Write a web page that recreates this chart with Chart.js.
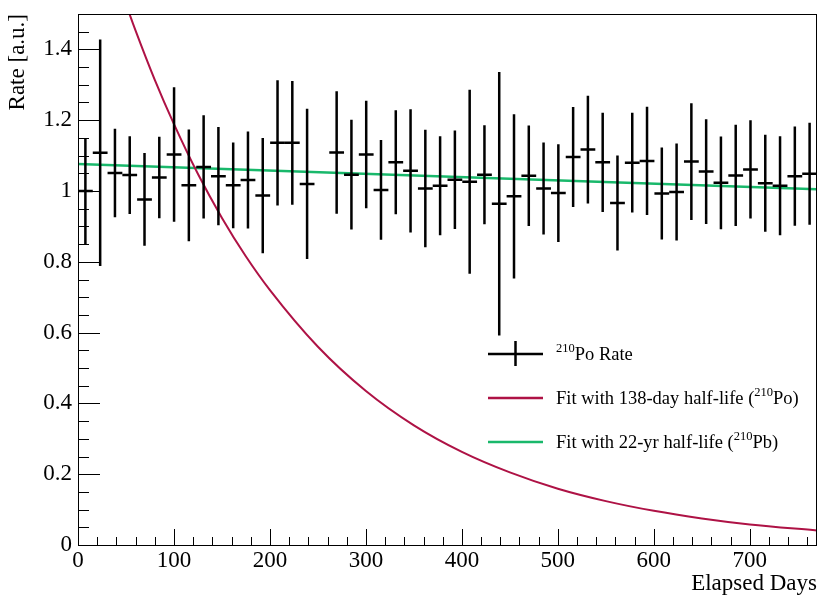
<!DOCTYPE html>
<html>
<head>
<meta charset="utf-8">
<script src="https://cdn.jsdelivr.net/npm/chart.js@4.4.1/dist/chart.umd.min.js"></script>
<style>
  html, body { margin: 0; padding: 0; background: #fff; }
</style>
</head>
<body>
<canvas id="rateChart" width="820" height="596"></canvas>
<script>
// bin centres (days) of the 210Po rate points, one bin near day 254 is empty
const binDays = [7.7, 23.1, 38.5, 53.9, 69.3, 84.7, 100.1, 115.5, 130.9, 146.3, 161.7, 177.1,
  192.5, 207.9, 223.3, 238.7, 269.5, 284.9, 300.3, 315.7, 331.1, 346.5, 361.9, 377.3,
  392.7, 408.1, 423.5, 438.9, 454.3, 469.7, 485.1, 500.5, 515.9, 531.3, 546.7, 562.1,
  577.5, 592.9, 608.3, 623.7, 639.1, 654.5, 669.9, 685.3, 700.7, 716.1, 731.5, 746.9, 762.3];
const binHalfWidth = 7.7;
const rateValues = [1.000, 1.108, 1.051, 1.045, 0.976, 1.038, 1.103, 1.016, 1.068, 1.042, 1.016, 1.031,
  0.987, 1.136, 1.136, 1.020, 1.109, 1.046, 1.103, 1.003, 1.081, 1.057, 1.007, 1.015,
  1.032, 1.026, 1.046, 0.964, 0.985, 1.043, 1.007, 0.994, 1.096, 1.117, 1.081, 0.966,
  1.080, 1.085, 0.993, 0.997, 1.083, 1.055, 1.023, 1.044, 1.061, 1.022, 1.015, 1.042, 1.049];
const rateErrors = [0.150, 0.320, 0.125, 0.110, 0.131, 0.115, 0.190, 0.158, 0.146, 0.139, 0.121, 0.137,
  0.163, 0.177, 0.175, 0.212, 0.173, 0.155, 0.152, 0.141, 0.147, 0.174, 0.166, 0.140,
  0.139, 0.260, 0.140, 0.372, 0.232, 0.142, 0.130, 0.138, 0.141, 0.152, 0.140, 0.134,
  0.141, 0.153, 0.130, 0.137, 0.165, 0.148, 0.131, 0.143, 0.139, 0.137, 0.140, 0.140, 0.144];

// 138-day half-life fit
const poFitDays = [40, 50, 60, 80, 100, 125, 150, 175, 200, 250, 300, 350, 400, 450, 500, 550, 600, 650, 700, 770];
const poFitValues = [1.607, 1.528, 1.453, 1.314, 1.189, 1.048, 0.924, 0.815, 0.720, 0.560, 0.435, 0.338,
  0.263, 0.205, 0.159, 0.124, 0.0965, 0.075, 0.058, 0.041];

// 22-yr half-life fit (almost flat)
const pbFitDays = [0, 770];
const pbFitValues = [1.076, 1.005];

const xTicks = [0, 100, 200, 300, 400, 500, 600, 700];
const yTicks = [0, 0.2, 0.4, 0.6, 0.8, 1, 1.2, 1.4];

const X_MAX = 770, Y_MAX = 1.5;
const FONT = '"Liberation Serif", "Times New Roman", serif';
const RED = '#AE1245';
const GREEN = '#19B86B';

// error bars, ROOT-style inner ticks, frame and legend
const rootStyle = {
  id: 'rootStyle',
  afterDatasetsDraw(chart) {
    const ctx = chart.ctx;
    const xs = chart.scales.x, ys = chart.scales.y;
    const area = chart.chartArea;
    ctx.save();
    ctx.beginPath();
    ctx.rect(area.left, area.top, area.right - area.left, area.bottom - area.top);
    ctx.clip();
    ctx.strokeStyle = '#000';
    ctx.lineWidth = 2.5;
    binDays.forEach((d, i) => {
      const v = rateValues[i], e = rateErrors[i];
      const px = xs.getPixelForValue(d), py = ys.getPixelForValue(v);
      ctx.beginPath();
      ctx.moveTo(xs.getPixelForValue(d - binHalfWidth), py);
      ctx.lineTo(xs.getPixelForValue(d + binHalfWidth), py);
      ctx.moveTo(px, ys.getPixelForValue(v + e));
      ctx.lineTo(px, ys.getPixelForValue(v - e));
      ctx.stroke();
    });
    ctx.restore();
  },
  afterDraw(chart) {
    const ctx = chart.ctx;
    const xs = chart.scales.x, ys = chart.scales.y;
    const a = chart.chartArea;
    ctx.save();
    ctx.strokeStyle = '#000';
    ctx.lineWidth = 1;
    // ticks
    ctx.beginPath();
    for (let d = 0; d <= X_MAX; d += 20) {
      const px = Math.round(xs.getPixelForValue(d)) + 0.5;
      const len = d % 100 === 0 ? 16 : 8;
      ctx.moveTo(px, a.bottom);
      ctx.lineTo(px, a.bottom - len);
    }
    for (let k = 0; k <= 30; k++) {
      const v = k * 0.05;
      const py = Math.round(ys.getPixelForValue(v)) + 0.5;
      const len = k % 4 === 0 ? 22 : 11;
      ctx.moveTo(a.left, py);
      ctx.lineTo(a.left + len, py);
    }
    ctx.stroke();
    // frame
    ctx.strokeRect(Math.round(a.left) + 0.5, Math.round(a.top) + 0.5,
      Math.round(a.right - a.left) - 1, Math.round(a.bottom - a.top));
    ctx.restore();

    // legend
    ctx.save();
    ctx.lineWidth = 2.5;
    ctx.strokeStyle = '#000';
    ctx.beginPath();
    ctx.moveTo(488, 354); ctx.lineTo(543, 354);
    ctx.moveTo(515.5, 341); ctx.lineTo(515.5, 366);
    ctx.stroke();
    ctx.strokeStyle = RED;
    ctx.beginPath(); ctx.moveTo(488, 398); ctx.lineTo(543, 398); ctx.stroke();
    ctx.strokeStyle = GREEN;
    ctx.beginPath(); ctx.moveTo(488, 442); ctx.lineTo(543, 442); ctx.stroke();

    ctx.fillStyle = '#000';
    ctx.textBaseline = 'alphabetic';
    const big = '18.5px ' + FONT, small = '12.5px ' + FONT;
    function richText(parts, x, y) {
      parts.forEach(p => {
        ctx.font = p.sup ? small : big;
        ctx.fillText(p.t, x, p.sup ? y - 8 : y);
        x += ctx.measureText(p.t).width;
      });
    }
    richText([{ t: '210', sup: true }, { t: 'Po Rate' }], 556, 360);
    richText([{ t: 'Fit with 138-day half-life (' }, { t: '210', sup: true }, { t: 'Po)' }], 556, 404);
    richText([{ t: 'Fit with 22-yr half-life (' }, { t: '210', sup: true }, { t: 'Pb)' }], 556, 448);
    ctx.restore();
  }
};

new Chart(document.getElementById('rateChart'), {
  type: 'scatter',
  data: {
    datasets: [
      {
        label: 'Fit with 138-day half-life',
        data: poFitDays.map((d, i) => ({ x: d, y: poFitValues[i] })),
        showLine: true,
        borderColor: RED,
        borderWidth: 2,
        pointRadius: 0,
        cubicInterpolationMode: 'monotone'
      },
      {
        label: 'Fit with 22-yr half-life',
        data: pbFitDays.map((d, i) => ({ x: d, y: pbFitValues[i] })),
        showLine: true,
        borderColor: GREEN,
        borderWidth: 2.5,
        pointRadius: 0
      },
      {
        label: '210Po Rate',
        data: binDays.map((d, i) => ({ x: d, y: rateValues[i] })),
        pointRadius: 0,
        showLine: false
      }
    ]
  },
  plugins: [rootStyle],
  options: {
    responsive: false,
    animation: false,
    devicePixelRatio: 1,
    layout: { padding: { top: 14, right: 3, left: 0, bottom: 0 } },
    plugins: { legend: { display: false }, tooltip: { enabled: false } },
    scales: {
      x: {
        type: 'linear',
        min: 0,
        max: X_MAX,
        grid: { display: false, drawTicks: false },
        border: { display: false },
        afterBuildTicks: s => { s.ticks = xTicks.map(v => ({ value: v })); },
        afterFit: s => { s.height = 51; s.paddingLeft = 0; s.paddingRight = 0; },
        ticks: {
          color: '#000',
          font: { family: FONT, size: 23 },
          padding: 2,
          maxRotation: 0,
          autoSkip: false
        },
        title: {
          display: true,
          text: 'Elapsed Days',
          align: 'end',
          color: '#000',
          font: { family: FONT, size: 23 },
          padding: { top: 0, bottom: -2 }
        }
      },
      y: {
        type: 'linear',
        min: 0,
        max: Y_MAX,
        grid: { display: false, drawTicks: false },
        border: { display: false },
        afterBuildTicks: s => { s.ticks = yTicks.map(v => ({ value: v })); },
        afterFit: s => { s.width = 78; s.paddingTop = 0; s.paddingBottom = 0; },
        ticks: {
          color: '#000',
          font: { family: FONT, size: 23 },
          padding: 6,
          callback: v => String(+v.toFixed(1))
        },
        title: {
          display: true,
          text: 'Rate [a.u.]',
          align: 'end',
          color: '#000',
          font: { family: FONT, size: 23 },
          padding: { top: 4, bottom: 0 }
        }
      }
    }
  }
});
</script>
</body>
</html>
